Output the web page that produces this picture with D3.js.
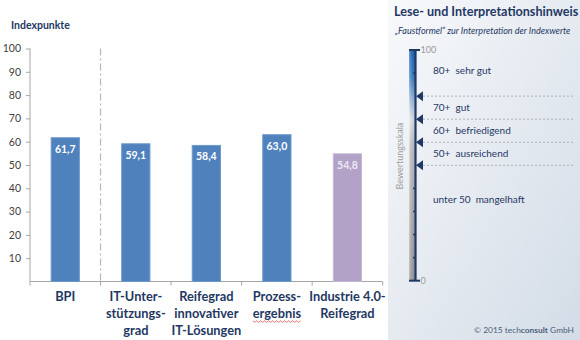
<!DOCTYPE html>
<html>
<head>
<meta charset="utf-8">
<script src="https://cdn.jsdelivr.net/npm/d3@7"></script>
<style>
  html, body { margin: 0; padding: 0; background: #fff; }
  svg { display: block; font-family: Lato, "Open Sans", sans-serif; }
  .rl { white-space: pre; }
</style>
</head>
<body>
<svg id="chart" width="580" height="340"></svg>
<script>
// Index values per dimension
const categories = ["BPI", "IT-Unter-stützungs-grad", "Reifegrad innovativer IT-Lösungen", "Prozess-ergebnis", "Industrie 4.0-Reifegrad"];
const categoryLines = [
  ["BPI"],
  ["IT-Unter-", "stützungs-", "grad"],
  ["Reifegrad", "innovativer", "IT-Lösungen"],
  ["Prozess-", "ergebnis"],
  ["Industrie 4.0-", "Reifegrad"]
];
const values = [61.7, 59.1, 58.4, 63.0, 54.8];
const barColors = ["#4f81bd", "#4f81bd", "#4f81bd", "#4f81bd", "#b3a2c7"];
const yTicks = [10, 20, 30, 40, 50, 60, 70, 80, 90, 100];

// Rating scale (Bewertungsskala)
const thresholds = [80, 70, 60, 50];
const ratingLabels = ["80+  sehr gut", "70+  gut", "60+  befriedigend", "50+  ausreichend", "unter 50  mangelhaft"];
const ratingAnchors = [91, 75, 65, 55, 35];
const scaleTicks = [10, 20, 30, 40, 90];

const navy = "#1f3864";
const svg = d3.select("#chart");
const defs = svg.append("defs");
const deLocale = d3.formatLocale({ decimal: ",", thousands: ".", grouping: [3], currency: ["", " €"] });
const fmt = deLocale.format(".1f");

// ---------- right info panel background ----------
const pg = defs.append("linearGradient").attr("id", "panelBg")
  .attr("x1", "0").attr("y1", "0").attr("x2", "1").attr("y2", "1");
pg.append("stop").attr("offset", "0%").attr("stop-color", "#f8f9fb");
pg.append("stop").attr("offset", "100%").attr("stop-color", "#d3dce7");
svg.append("rect").attr("x", 388).attr("y", 0).attr("width", 192).attr("height", 340)
  .attr("fill", "url(#panelBg)");

// ---------- bar chart ----------
const y = d3.scaleLinear().domain([0, 100]).range([281.5, 48.5]);
const slot = d3.scaleBand().domain(categories).range([30, 382.7]).padding(0);
const x = d3.scaleBand().domain(categories).range([30, 382.7]).paddingInner(0.6).paddingOuter(0.3);

svg.append("text").attr("x", 11).attr("y", 29)
  .attr("font-size", 10.5).attr("font-weight", 700).attr("fill", navy)
  .text("Indexpunkte");

const yAxis = svg.append("g").attr("transform", "translate(30,0)")
  .call(d3.axisLeft(y).tickValues(yTicks).tickSize(4).tickPadding(5));
yAxis.select(".domain").attr("stroke", "#a6a6a6").attr("d", `M0,${y(100)}V${y(0)}`);
yAxis.selectAll(".tick line").attr("stroke", "#a6a6a6");
yAxis.selectAll(".tick text").attr("font-size", 10.5).attr("fill", "#404040")
  .attr("font-family", "Lato, sans-serif");

// baseline with category separators
svg.append("line").attr("x1", 30).attr("x2", 382.7).attr("y1", y(0)).attr("y2", y(0))
  .attr("stroke", "#a6a6a6");
const bounds = categories.map(c => slot(c)).concat([slot.range()[1]]);
svg.selectAll(".sep").data(bounds).join("line").attr("class", "sep")
  .attr("x1", d => d).attr("x2", d => d).attr("y1", y(0)).attr("y2", y(0) + 4)
  .attr("stroke", "#a6a6a6");

// dash-dot divider after BPI
svg.append("line").attr("x1", slot(categories[1])).attr("x2", slot(categories[1]))
  .attr("y1", y(100)).attr("y2", y(0))
  .attr("stroke", "#b8b8b8").attr("stroke-width", 1.2).attr("stroke-dasharray", "7,3,2,3");

svg.selectAll(".bar").data(values).join("rect").attr("class", "bar")
  .attr("x", (d, i) => x(categories[i]))
  .attr("width", x.bandwidth())
  .attr("y", d => y(d))
  .attr("height", d => y(0) - y(d))
  .attr("fill", (d, i) => barColors[i])
  .attr("stroke", (d, i) => i === 4 ? "#c3b6d4" : "#6e98cc")
  .attr("stroke-width", 1);

svg.selectAll(".val").data(values).join("text").attr("class", "val")
  .attr("x", (d, i) => x(categories[i]) + x.bandwidth() / 2)
  .attr("y", d => y(d) + 15)
  .attr("text-anchor", "middle").attr("font-size", 10.5).attr("font-weight", 700)
  .attr("fill", (d, i) => i === 4 ? "#ede8f3" : "#ffffff")
  .text(d => fmt(d));

// category labels
categoryLines.forEach((lines, i) => {
  const cx = slot(categories[i]) + slot.bandwidth() / 2;
  lines.forEach((ln, j) => {
    const t = svg.append("text").attr("x", cx).attr("y", 301 + j * 16.8)
      .attr("text-anchor", "middle").attr("font-size", 12.8).attr("font-weight", 700)
      .attr("fill", navy).text(ln);
    if (ln === "ergebnis") {
      // spell-check squiggle under the word
      const w = t.node().getComputedTextLength();
      const x0 = cx - w / 2, yb = 301 + j * 16.8 + 3;
      const pts = d3.range(0, Math.floor(w / 2) + 1).map(k => [x0 + k * 2, yb + (k % 2 ? 1.5 : 0)]);
      svg.append("path").attr("d", d3.line()(pts)).attr("fill", "none")
        .attr("stroke", "#e05050").attr("stroke-width", 0.8);
    }
  });
});

// ---------- info panel ----------
svg.append("text").attr("x", 394).attr("y", 15.5)
  .attr("font-size", 12.6).attr("font-weight", 700).attr("fill", navy)
  .text("Lese- und Interpretationshinweis");
svg.append("text").attr("x", 395).attr("y", 34)
  .attr("font-size", 9).attr("font-style", "italic").attr("fill", navy)
  .text("„Faustformel“ zur Interpretation der Indexwerte");

const s = d3.scaleLinear().domain([0, 100]).range([280.7, 50]);

const bg = defs.append("linearGradient").attr("id", "scaleFill")
  .attr("x1", "0").attr("y1", "0").attr("x2", "0").attr("y2", "1");
[["0%", "#1565c0"], ["12%", "#3a85d0"], ["22%", "#a9c8ea"], ["30%", "#eef2f7"], ["42%", "#cdcdcd"], ["100%", "#a3a3a3"]]
  .forEach(([o, c]) => bg.append("stop").attr("offset", o).attr("stop-color", c));
const hg = defs.append("linearGradient").attr("id", "scaleShade")
  .attr("x1", "0").attr("y1", "0").attr("x2", "1").attr("y2", "0");
hg.append("stop").attr("offset", "0%").attr("stop-color", "#ffffff").attr("stop-opacity", 0.35);
hg.append("stop").attr("offset", "100%").attr("stop-color", "#000000").attr("stop-opacity", 0.1);

svg.append("rect").attr("x", 409).attr("y", s(100)).attr("width", 6).attr("height", s(0) - s(100))
  .attr("fill", "url(#scaleFill)");
svg.append("rect").attr("x", 409).attr("y", s(100)).attr("width", 6).attr("height", s(0) - s(100))
  .attr("fill", "url(#scaleShade)");

svg.append("line").attr("x1", 415.5).attr("x2", 415.5).attr("y1", s(100)).attr("y2", s(0))
  .attr("stroke", navy).attr("stroke-width", 2.2);
[100, 0].forEach(v => {
  svg.append("line").attr("x1", 409).attr("x2", 420).attr("y1", s(v)).attr("y2", s(v))
    .attr("stroke", navy).attr("stroke-width", 2);
  svg.append("text").attr("x", 420.5).attr("y", s(v) + 3)
    .attr("font-size", 9).attr("fill", "#9a9a9a").text(v);
});
svg.selectAll(".stick").data(scaleTicks).join("line").attr("class", "stick")
  .attr("x1", 413).attr("x2", 416).attr("y1", d => s(d)).attr("y2", d => s(d))
  .attr("stroke", navy).attr("stroke-width", 1.5);

svg.selectAll(".thr").data(thresholds).join("line").attr("class", "thr")
  .attr("x1", 423).attr("x2", 575).attr("y1", d => s(d)).attr("y2", d => s(d))
  .attr("stroke", "#a0a4aa").attr("stroke-width", 0.8).attr("stroke-dasharray", "2,2");
svg.selectAll(".tri").data(thresholds).join("path").attr("class", "tri")
  .attr("d", d => `M416,${s(d)}L423,${s(d) - 5}L423,${s(d) + 5}Z`)
  .attr("fill", navy);

svg.append("text").attr("transform", `translate(403,${s(54)}) rotate(-90)`)
  .attr("text-anchor", "middle").attr("font-size", 9).attr("fill", "#a0a0a0")
  .text("Bewertungsskala");

svg.selectAll(".rl").data(ratingLabels).join("text").attr("class", "rl")
  .attr("x", 433).attr("y", (d, i) => s(ratingAnchors[i]) + 3.5)
  .attr("font-size", 10).attr("fill", navy)
  .text(d => d);

const foot = svg.append("text").attr("x", 574).attr("y", 332.5).attr("text-anchor", "end")
  .attr("font-size", 8.4).attr("fill", "#4f6079");
foot.append("tspan").text("© 2015 tech");
foot.append("tspan").attr("font-weight", 700).text("consult");
foot.append("tspan").text(" GmbH");
</script>
</body>
</html>
